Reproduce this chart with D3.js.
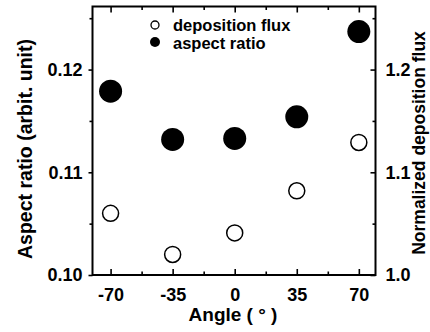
<!DOCTYPE html>
<html>
<head>
<meta charset="utf-8">
<script src="https://cdn.jsdelivr.net/npm/d3@7"></script>
<style>
  body { margin: 0; background: #fff; }
  svg text { font-family: "Liberation Sans", Arial, sans-serif; font-weight: bold; fill: #000; }
</style>
</head>
<body>
<div id="chart"></div>
<script>
// data
const angles = [-70, -35, 0, 35, 70];
const aspectRatio = [0.1179, 0.1132, 0.1133, 0.1154, 0.1237];
const depositionFlux = [1.060, 1.020, 1.041, 1.082, 1.129];
const xTicks = [-70, -35, 0, 35, 70];
const yLeftTicks = [0.10, 0.11, 0.12];
const yRightTicks = [1.0, 1.1, 1.2];

const width = 430, height = 332;
// plot box edges
const plotLeft = 92.5, plotRight = 375.5, plotTop = 6.5, plotBottom = 275;

const svg = d3.select('#chart').append('svg')
    .attr('width', width)
    .attr('height', height);

const x = d3.scaleLinear().domain([-80.2, 79.4]).range([plotLeft, plotRight]);
const yL = d3.scaleLinear().domain([0.10, 0.12614]).range([plotBottom, plotTop]);
const yR = d3.scaleLinear().domain([1.0, 1.2614]).range([plotBottom, plotTop]);

// minor ticks between the labelled ones
const xMinor = [-52.5, -17.5, 17.5, 52.5];
const yMinorL = [0.105, 0.115, 0.125];
const yMinorR = [1.05, 1.15, 1.25];

function styleAxis(g){
    g.select('.domain').remove();
    g.selectAll('line').attr('stroke', '#000').attr('stroke-width', 1.6);
    g.selectAll('text').attr('font-size', 18);
}

// bottom axis (ticks pointing inward), plain hyphen for negatives like the original
svg.append('g')
    .attr('transform', `translate(0,${plotBottom})`)
    .call(d3.axisBottom(x).tickValues(xTicks).tickSizeInner(-6).tickPadding(13).tickFormat(d => String(d)))
    .call(styleAxis);
svg.append('g')
    .attr('transform', `translate(0,${plotBottom})`)
    .call(d3.axisBottom(x).tickValues(xMinor).tickSizeInner(-3.5).tickFormat(''))
    .call(styleAxis);

// top axis mirror
svg.append('g')
    .attr('transform', `translate(0,${plotTop})`)
    .call(d3.axisTop(x).tickValues(xTicks).tickSizeInner(-6).tickFormat(''))
    .call(styleAxis);
svg.append('g')
    .attr('transform', `translate(0,${plotTop})`)
    .call(d3.axisTop(x).tickValues(xMinor).tickSizeInner(-3.5).tickFormat(''))
    .call(styleAxis);

// left axis
svg.append('g')
    .attr('transform', `translate(${plotLeft},0)`)
    .call(d3.axisLeft(yL).tickValues(yLeftTicks).tickSizeInner(4).tickPadding(6).tickFormat(d3.format('.2f')))
    .call(styleAxis);
svg.append('g')
    .attr('transform', `translate(${plotLeft},0)`)
    .call(d3.axisLeft(yL).tickValues(yMinorL).tickSizeInner(3).tickFormat(''))
    .call(styleAxis);

// right axis
svg.append('g')
    .attr('transform', `translate(${plotRight},0)`)
    .call(d3.axisRight(yR).tickValues(yRightTicks).tickSizeInner(-5).tickPadding(10).tickFormat(d3.format('.1f')))
    .call(styleAxis);
svg.append('g')
    .attr('transform', `translate(${plotRight},0)`)
    .call(d3.axisRight(yR).tickValues(yMinorR).tickSizeInner(-3).tickFormat(''))
    .call(styleAxis);

// frame
svg.append('rect')
    .attr('x', plotLeft).attr('y', plotTop)
    .attr('width', plotRight - plotLeft).attr('height', plotBottom - plotTop)
    .attr('fill', 'none').attr('stroke', '#000').attr('stroke-width', 2);

// points
svg.append('g').selectAll('circle')
    .data(angles.map((a, i) => ({a: a, v: depositionFlux[i]})))
    .enter().append('circle')
    .attr('cx', d => x(d.a))
    .attr('cy', d => yR(d.v))
    .attr('r', 8)
    .attr('fill', '#fff')
    .attr('stroke', '#000')
    .attr('stroke-width', 1.5);

svg.append('g').selectAll('circle')
    .data(angles.map((a, i) => ({a: a, v: aspectRatio[i]})))
    .enter().append('circle')
    .attr('cx', d => x(d.a))
    .attr('cy', d => yL(d.v))
    .attr('r', 11.5)
    .attr('fill', '#000');

// legend
const legend = svg.append('g');
legend.append('circle').attr('cx', 155).attr('cy', 25).attr('r', 4)
    .attr('fill', '#fff').attr('stroke', '#000').attr('stroke-width', 1.3);
legend.append('text').attr('x', 173).attr('y', 31).attr('font-size', 16.5).text('deposition flux');
legend.append('circle').attr('cx', 155).attr('cy', 42).attr('r', 5).attr('fill', '#000');
legend.append('text').attr('x', 173).attr('y', 49).attr('font-size', 16.5).text('aspect ratio');

// axis titles
svg.append('text')
    .attr('x', 233).attr('y', 321)
    .attr('text-anchor', 'middle')
    .attr('font-size', 19)
    .text('Angle ( ° )');

svg.append('text')
    .attr('transform', 'translate(32,149) rotate(-90)')
    .attr('text-anchor', 'middle')
    .attr('font-size', 19.5)
    .text('Aspect ratio (arbit. unit)');

svg.append('text')
    .attr('transform', 'translate(425,143) rotate(-90)')
    .attr('text-anchor', 'middle')
    .attr('font-size', 17.5)
    .text('Normalized deposition flux');
</script>
</body>
</html>
